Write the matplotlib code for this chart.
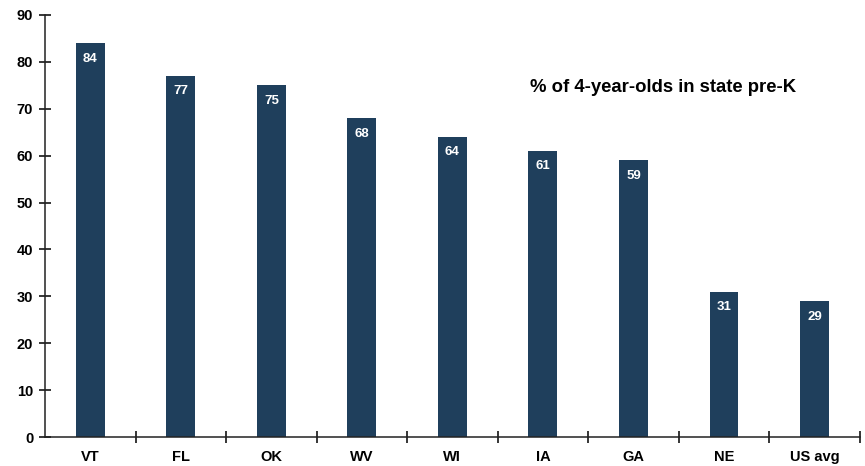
import numpy as np
import matplotlib.pyplot as plt
from matplotlib.ticker import FixedLocator

states = ["VT", "FL", "OK", "WV", "WI", "IA", "GA", "NE", "US avg"]
pct_prek = [84, 77, 75, 68, 64, 61, 59, 31, 29]

plt.rcParams['font.family'] = ['Liberation Sans', 'DejaVu Sans']

fig = plt.figure(figsize=(8.65, 4.66), dpi=100)
ax = fig.add_axes([0.052, 0.062, 0.942, 0.906])

x = np.arange(len(states))
bars = ax.bar(x, pct_prek, width=0.32, color='#1f3f5c', edgecolor='none')

# value labels sit inside the top of each bar
for xi, v in zip(x, pct_prek):
  ax.text(xi, v - 3.3, str(v), ha='center', va='center', color='white',
          fontsize=9.5, fontweight='bold')

ax.set_xlim(-0.5, len(states) - 0.5)
ax.set_ylim(0, 90)
ax.set_yticks(np.arange(0, 91, 10))
ax.set_xticks(x)
ax.set_xticklabels(states)
ax.xaxis.set_minor_locator(FixedLocator(np.arange(0.5, len(states), 1.0)))

ax.tick_params(axis='y', direction='inout', length=9, width=1.1, labelsize=10.5, pad=4)
ax.tick_params(axis='x', which='major', length=0, labelsize=10.5, pad=9)
ax.tick_params(axis='x', which='minor', direction='inout', length=9, width=1.1)
for lbl in ax.get_xticklabels() + ax.get_yticklabels():
  lbl.set_fontweight('bold')

for side in ['top', 'right']:
  ax.spines[side].set_visible(False)
for side in ['left', 'bottom']:
  ax.spines[side].set_linewidth(1.1)
  ax.spines[side].set_color('#222222')

ax.text(0.595, 0.829, "% of 4-year-olds in state pre-K", transform=ax.transAxes,
        fontsize=13.3, fontweight='bold', ha='left', va='center')

plt.savefig("out.png", dpi=100)
